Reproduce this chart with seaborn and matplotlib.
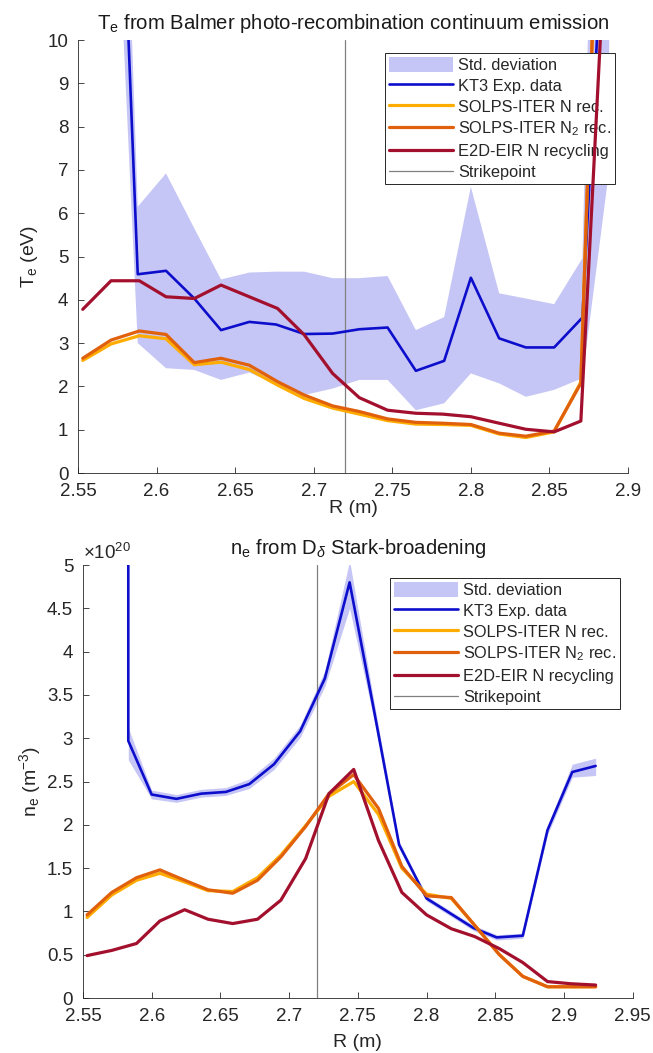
import numpy as np
import pandas as pd
import matplotlib
matplotlib.use("Agg")
import matplotlib.pyplot as plt
from matplotlib.ticker import FuncFormatter, MultipleLocator
import seaborn as sns

# ---------------- data ----------------
# Top panel: Te (eV)
r_kt3_top = [2.570, 2.588, 2.606, 2.624, 2.641, 2.659, 2.676, 2.694, 2.712, 2.729,
             2.747, 2.765, 2.783, 2.800, 2.818, 2.835, 2.853, 2.871, 2.888]
te_kt3 = [21.2, 4.59, 4.67, 4.03, 3.30, 3.49, 3.43, 3.21, 3.22, 3.32,
          3.36, 2.36, 2.59, 4.51, 3.11, 2.90, 2.90, 3.59, 15.4]
te_kt3_lo = [17.0, 3.00, 2.42, 2.38, 2.15, 2.32, 2.05, 1.80, 1.95, 2.15,
             2.15, 1.45, 1.61, 2.30, 2.07, 1.76, 1.92, 2.19, 7.0]
te_kt3_hi = [25.3, 6.15, 6.92, 5.65, 4.47, 4.63, 4.65, 4.65, 4.50, 4.50,
             4.55, 3.30, 3.60, 6.61, 4.15, 4.03, 3.90, 4.96, 30.0]

r_sim_top = [2.553, 2.571, 2.589, 2.606, 2.624, 2.641, 2.659, 2.677, 2.694, 2.712,
             2.729, 2.747, 2.765, 2.782, 2.800, 2.818, 2.835, 2.853, 2.870, 2.888]
te_solps_n = [2.60, 2.98, 3.17, 3.10, 2.50, 2.56, 2.39, 2.03, 1.72, 1.50,
              1.36, 1.21, 1.13, 1.12, 1.10, 0.90, 0.82, 0.95, 2.10, 21.9]
te_solps_n2 = [2.65, 3.07, 3.28, 3.20, 2.55, 2.65, 2.49, 2.11, 1.80, 1.55,
               1.42, 1.25, 1.17, 1.15, 1.12, 0.92, 0.85, 0.97, 2.07, 21.9]
te_e2d = [3.78, 4.44, 4.44, 4.07, 4.03, 4.34, 4.07, 3.80, 3.19, 2.30,
          1.74, 1.45, 1.38, 1.36, 1.30, 1.15, 1.01, 0.95, 1.20, 14.0]

# Bottom panel: ne (1e20 m^-3)
r_kt3_bot = [2.583, 2.583, 2.600, 2.618, 2.636, 2.654, 2.671, 2.689, 2.708, 2.726,
             2.744, 2.762, 2.780, 2.800, 2.817, 2.834, 2.851, 2.870, 2.888, 2.906, 2.923]
ne_kt3 = [6.00, 2.97, 2.35, 2.30, 2.36, 2.38, 2.47, 2.70, 3.08, 3.69,
          4.80, 3.30, 1.77, 1.15, 0.98, 0.81, 0.70, 0.72, 1.94, 2.61, 2.68]
ne_kt3_lo = [5.80, 2.75, 2.30, 2.26, 2.32, 2.34, 2.42, 2.64, 3.01, 3.60,
             4.50, 3.20, 1.73, 1.12, 0.95, 0.78, 0.67, 0.69, 1.89, 2.55, 2.57]
ne_kt3_hi = [6.20, 3.12, 2.40, 2.35, 2.41, 2.43, 2.53, 2.77, 3.15, 3.78,
             5.05, 3.40, 1.81, 1.18, 1.01, 0.84, 0.73, 0.75, 1.99, 2.70, 2.77]

r_sim_bot = [2.553, 2.571, 2.589, 2.606, 2.624, 2.641, 2.659, 2.677, 2.694, 2.712,
             2.729, 2.747, 2.765, 2.782, 2.800, 2.818, 2.835, 2.853, 2.870, 2.888,
             2.905, 2.923]
ne_solps_n = [0.93, 1.19, 1.36, 1.44, 1.34, 1.24, 1.23, 1.39, 1.65, 1.99,
              2.33, 2.50, 2.12, 1.50, 1.20, 1.15, 0.84, 0.50, 0.25, 0.13,
              0.13, 0.13]
ne_solps_n2 = [0.96, 1.22, 1.39, 1.48, 1.36, 1.25, 1.21, 1.36, 1.63, 1.98,
               2.36, 2.58, 2.19, 1.52, 1.18, 1.16, 0.84, 0.50, 0.25, 0.13,
               0.13, 0.13]
ne_e2d = [0.49, 0.55, 0.63, 0.89, 1.02, 0.91, 0.86, 0.91, 1.13, 1.61,
          2.36, 2.64, 1.82, 1.22, 0.96, 0.80, 0.71, 0.57, 0.41, 0.19,
          0.165, 0.15]

strikepoint = 2.72

labels = ["Std. deviation", "KT3 Exp. data", "SOLPS-ITER N rec.",
          "SOLPS-ITER N$_2$ rec.", "E2D-EIR N recycling", "Strikepoint"]

# ---------------- style ----------------
sns.set_style("ticks")
plt.rcParams["font.family"] = ["Liberation Sans", "DejaVu Sans"]
plt.rcParams["mathtext.fontset"] = "custom"
plt.rcParams["mathtext.rm"] = "Liberation Sans"
plt.rcParams["mathtext.it"] = "Liberation Sans:italic"
plt.rcParams["mathtext.bf"] = "Liberation Sans:bold"

FILL = "#c6c6f6"
BLUE = "#0d0dcc"
YELLOW = "#ffac00"
ORANGE = "#e0600c"
RED = "#a3102e"
SPC = "#808080"
AXC = "#262626"


def panel(ax, r_exp, v_exp, lo, hi, r_sim, v_n, v_n2, v_e2d):
    ax.fill_between(r_exp, lo, hi, color=FILL, lw=0, label=labels[0], zorder=1)
    sns.lineplot(data=pd.DataFrame({"R": r_exp, "v": v_exp}), x="R", y="v", ax=ax,
                 color=BLUE, lw=1.9, estimator=None, sort=False, label=labels[1], zorder=3)
    sns.lineplot(data=pd.DataFrame({"R": r_sim, "v": v_n}), x="R", y="v", ax=ax,
                 color=YELLOW, lw=2.3, estimator=None, sort=False, label=labels[2], zorder=4)
    sns.lineplot(data=pd.DataFrame({"R": r_sim, "v": v_n2}), x="R", y="v", ax=ax,
                 color=ORANGE, lw=2.3, estimator=None, sort=False, label=labels[3], zorder=5)
    sns.lineplot(data=pd.DataFrame({"R": r_sim, "v": v_e2d}), x="R", y="v", ax=ax,
                 color=RED, lw=2.3, estimator=None, sort=False, label=labels[4], zorder=6)
    ax.axvline(strikepoint, color=SPC, lw=0.9, label=labels[5], zorder=2)
    for s in ["top", "right"]:
        ax.spines[s].set_visible(False)
    for s in ["left", "bottom"]:
        ax.spines[s].set_color(AXC)
        ax.spines[s].set_linewidth(0.6)
    ax.tick_params(direction="in", length=4.5, width=0.6, colors=AXC,
                   labelsize=13.5, labelcolor="#262626")
    ax.tick_params(axis="x", pad=7)
    ax.tick_params(axis="y", pad=7)
    fmt = FuncFormatter(lambda v, p: f"{v:g}")
    ax.xaxis.set_major_formatter(fmt)
    ax.yaxis.set_major_formatter(fmt)
    ax.xaxis.set_major_locator(MultipleLocator(0.05))
    leg = ax.legend(loc="upper right", bbox_to_anchor=(0.977, 0.97), borderaxespad=0,
                    frameon=True, fancybox=False, framealpha=1, edgecolor=AXC,
                    fontsize=11.8, handlelength=3.9, handleheight=1.0,
                    borderpad=0.25, labelspacing=0.3, handletextpad=0.3)
    leg.get_frame().set_linewidth(0.7)
    return leg


fig = plt.figure(figsize=(6.53, 10.53), dpi=100)
ax1 = fig.add_axes([0.1195, 0.5508, 0.8422, 0.4112])
ax2 = fig.add_axes([0.127, 0.0522, 0.842, 0.4112])

panel(ax1, r_kt3_top, te_kt3, te_kt3_lo, te_kt3_hi, r_sim_top, te_solps_n, te_solps_n2, te_e2d)
ax1.set_xlim(2.55, 2.9)
ax1.set_ylim(0, 10)
ax1.yaxis.set_major_locator(MultipleLocator(1))
ax1.set_xlabel("R (m)", fontsize=14, color="#262626", labelpad=0)
ax1.set_ylabel("T$_{\\rm e}$ (eV)", fontsize=14, color="#262626", labelpad=5)
ax1.set_title("T$_{\\rm e}$ from Balmer photo-recombination continuum emission",
              fontsize=14.6, color="#1a1a1a", pad=8)

panel(ax2, r_kt3_bot, ne_kt3, ne_kt3_lo, ne_kt3_hi, r_sim_bot, ne_solps_n, ne_solps_n2, ne_e2d)
ax2.set_xlim(2.55, 2.95)
ax2.set_ylim(0, 5)
ax2.yaxis.set_major_locator(MultipleLocator(0.5))
ax2.set_xlabel("R (m)", fontsize=14, color="#262626", labelpad=7)
ax2.set_ylabel("n$_{\\rm e}$ (m$^{-3}$)", fontsize=14, color="#262626", labelpad=3)
ax2.set_title("n$_{\\rm e}$ from D$_{\\delta}$ Stark-broadening",
              fontsize=14.6, color="#1a1a1a", pad=8)
ax2.text(0.0, 1.005, "$\\times$10$^{20}$", transform=ax2.transAxes,
         fontsize=13.5, color="#262626", ha="left", va="bottom")

fig.savefig("out.png", dpi=100, facecolor="white")
